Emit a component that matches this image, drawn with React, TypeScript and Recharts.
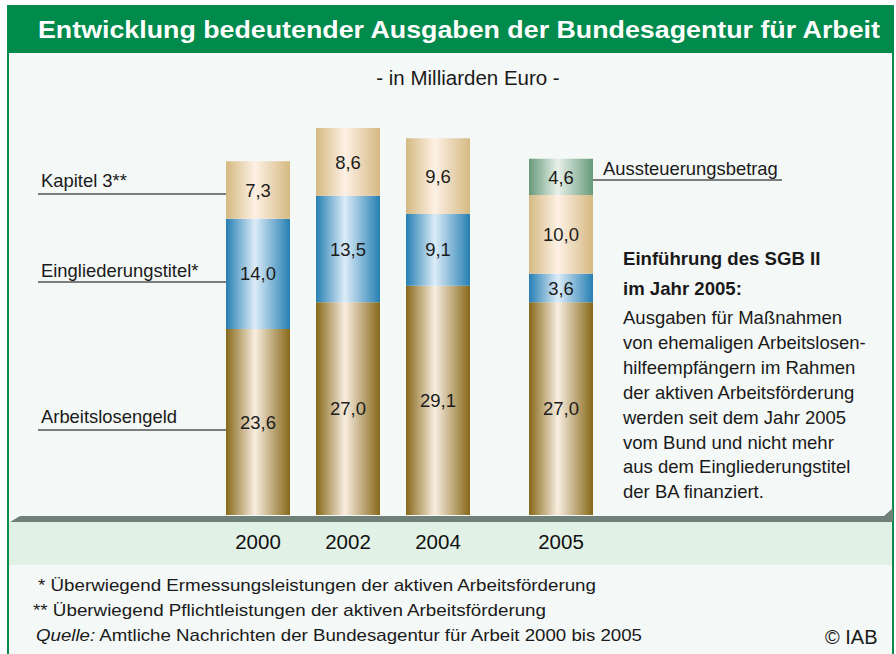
import React from 'react';
import { BarChart, Bar, XAxis, YAxis, LabelList } from 'recharts';

// Werte in Milliarden Euro
const years = ['2000', '2002', '2004'];
const arbeitslosengeld = [23.6, 27.0, 29.1];
const eingliederungstitel = [14.0, 13.5, 9.1];
const kapitel3 = [7.3, 8.6, 9.6];

const years2005 = ['2005'];
const arbeitslosengeld2005 = [27.0];
const eingliederungstitel2005 = [3.6];
const kapitel3_2005 = [10.0];
const aussteuerung2005 = [4.6];

const noteLines = [
  'Ausgaben für Maßnahmen',
  'von ehemaligen Arbeitslosen-',
  'hilfeempfängern im Rahmen',
  'der aktiven Arbeitsförderung',
  'werden seit dem Jahr 2005',
  'vom Bund und nicht mehr',
  'aus dem Eingliederungstitel',
  'der BA finanziert.',
];

const dataMain = years.map((year, i) => ({
  year,
  alg: arbeitslosengeld[i],
  egt: eingliederungstitel[i],
  kap3: kapitel3[i],
}));

const data2005 = years2005.map((year, i) => ({
  year,
  alg: arbeitslosengeld2005[i],
  egt: eingliederungstitel2005[i],
  kap3: kapitel3_2005[i],
  aus: aussteuerung2005[i],
}));

const FONT = '"Liberation Sans", Arial, Helvetica, sans-serif';
const fmt = (v: any) => Number(v).toFixed(1).replace('.', ',');

const labelStyle = { fontSize: 18.5, fill: '#1c1c1c', fontFamily: FONT };

const Gradient = ({ id, edge, mid }: { id: string; edge: string; mid: string }) => (
  <linearGradient id={id} x1="0" y1="0" x2="1" y2="0">
    <stop offset="0%" stopColor={edge} />
    <stop offset="45%" stopColor={mid} />
    <stop offset="100%" stopColor={edge} />
  </linearGradient>
);

const chartProps = {
  height: 444,
  margin: { top: 0, right: 0, left: 0, bottom: 20 },
};

const xAxis = (
  <XAxis
    dataKey="year"
    axisLine={false}
    tickLine={false}
    tickMargin={13}
    height={30}
    tick={{ fontSize: 20.5, fill: '#111', fontFamily: FONT }}
  />
);

export default function App() {
  return (
    <div style={{ position: 'absolute', left: 0, top: 0, width: 896, height: 654, background: '#fff', fontFamily: FONT }}>
      <svg width={896} height={654} style={{ position: 'absolute', left: 0, top: 0 }}>
        <defs>
          <Gradient id="gGold" edge="#876819" mid="#f8ede0" />
          <Gradient id="gBlue" edge="#267fb3" mid="#dcecf8" />
          <Gradient id="gTan" edge="#d5b982" mid="#fdf1e5" />
          <Gradient id="gGreen" edge="#679a7a" mid="#e7f1e9" />
        </defs>
        {/* Rahmen */}
        <rect x={8} y={6} width={885} height={660} fill="#f4f8f6" stroke="#0a8a4c" strokeWidth={2} />
        <rect x={8} y={6} width={885} height={47} fill="#008a4b" />
        <text x={38} y={38} fontSize={24} fontWeight="bold" fill="#fff" textLength={842} lengthAdjust="spacingAndGlyphs">
          Entwicklung bedeutender Ausgaben der Bundesagentur für Arbeit
        </text>
        <text x={468} y={85} fontSize={20.5} fill="#1a1a1a" textAnchor="middle">
          - in Milliarden Euro -
        </text>

        {/* Boden */}
        <rect x={9} y={522} width={883} height={43} fill="#e2f1e6" />
        <polygon points="20,516 884,516 893,508 893,522 10,522" fill="#6e8078" />

        {/* Beschriftungen links */}
        <g fontSize={18.4} fill="#1a1a1a">
          <text x={41} y={187}>Kapitel 3**</text>
          <text x={41} y={277}>Eingliederungstitel*</text>
          <text x={41} y={423}>Arbeitslosengeld</text>
          <text x={603} y={175}>Aussteuerungsbetrag</text>
        </g>
        <g stroke="#555" strokeWidth={1.5}>
          <line x1={38} y1={194} x2={227} y2={194} />
          <line x1={38} y1={282} x2={227} y2={282} />
          <line x1={38} y1={430} x2={227} y2={430} />
          <line x1={593} y1={180} x2={782} y2={180} />
        </g>

        {/* Hinweis */}
        <g fill="#1a1a1a">
          <text x={623} y={265} fontSize={18.6} fontWeight="bold">Einführung des SGB II</text>
          <text x={623} y={295} fontSize={18.6} fontWeight="bold">im Jahr 2005:</text>
          {noteLines.map((l, i) => (
            <text key={i} x={623} y={324 + i * 24.9} fontSize={18.5}>{l}</text>
          ))}
        </g>

        {/* Fußnoten */}
        <g fill="#1a1a1a" fontSize={17}>
          <text x={38} y={591} textLength={558} lengthAdjust="spacingAndGlyphs">
            * Überwiegend Ermessungsleistungen der aktiven Arbeitsförderung
          </text>
          <text x={33} y={616} textLength={513} lengthAdjust="spacingAndGlyphs">
            ** Überwiegend Pflichtleistungen der aktiven Arbeitsförderung
          </text>
          <text x={36} y={641} textLength={606} lengthAdjust="spacingAndGlyphs">
            <tspan fontStyle="italic">Quelle:</tspan> Amtliche Nachrichten der Bundesagentur für Arbeit 2000 bis 2005
          </text>
          <text x={825} y={644} fontSize={20}>© IAB</text>
        </g>
      </svg>

      <div style={{ position: 'absolute', left: 213, top: 121 }}>
        <BarChart width={270} data={dataMain} barSize={64} {...chartProps}>
          {xAxis}
          <YAxis hide domain={[0, 50]} />
          <Bar dataKey="alg" stackId="a" fill="url(#gGold)" isAnimationActive={false}>
            <LabelList dataKey="alg" position="center" formatter={fmt} style={labelStyle} />
          </Bar>
          <Bar dataKey="egt" stackId="a" fill="url(#gBlue)" isAnimationActive={false}>
            <LabelList dataKey="egt" position="center" formatter={fmt} style={labelStyle} />
          </Bar>
          <Bar dataKey="kap3" stackId="a" fill="url(#gTan)" isAnimationActive={false}>
            <LabelList dataKey="kap3" position="center" formatter={fmt} style={labelStyle} />
          </Bar>
        </BarChart>
      </div>

      <div style={{ position: 'absolute', left: 516, top: 121 }}>
        <BarChart width={90} data={data2005} barSize={64} {...chartProps}>
          {xAxis}
          <YAxis hide domain={[0, 50]} />
          <Bar dataKey="alg" stackId="a" fill="url(#gGold)" isAnimationActive={false}>
            <LabelList dataKey="alg" position="center" formatter={fmt} style={labelStyle} />
          </Bar>
          <Bar dataKey="egt" stackId="a" fill="url(#gBlue)" isAnimationActive={false}>
            <LabelList dataKey="egt" position="center" formatter={fmt} style={labelStyle} />
          </Bar>
          <Bar dataKey="kap3" stackId="a" fill="url(#gTan)" isAnimationActive={false}>
            <LabelList dataKey="kap3" position="center" formatter={fmt} style={labelStyle} />
          </Bar>
          <Bar dataKey="aus" stackId="a" fill="url(#gGreen)" isAnimationActive={false}>
            <LabelList dataKey="aus" position="center" formatter={fmt} style={labelStyle} />
          </Bar>
        </BarChart>
      </div>
    </div>
  );
}
